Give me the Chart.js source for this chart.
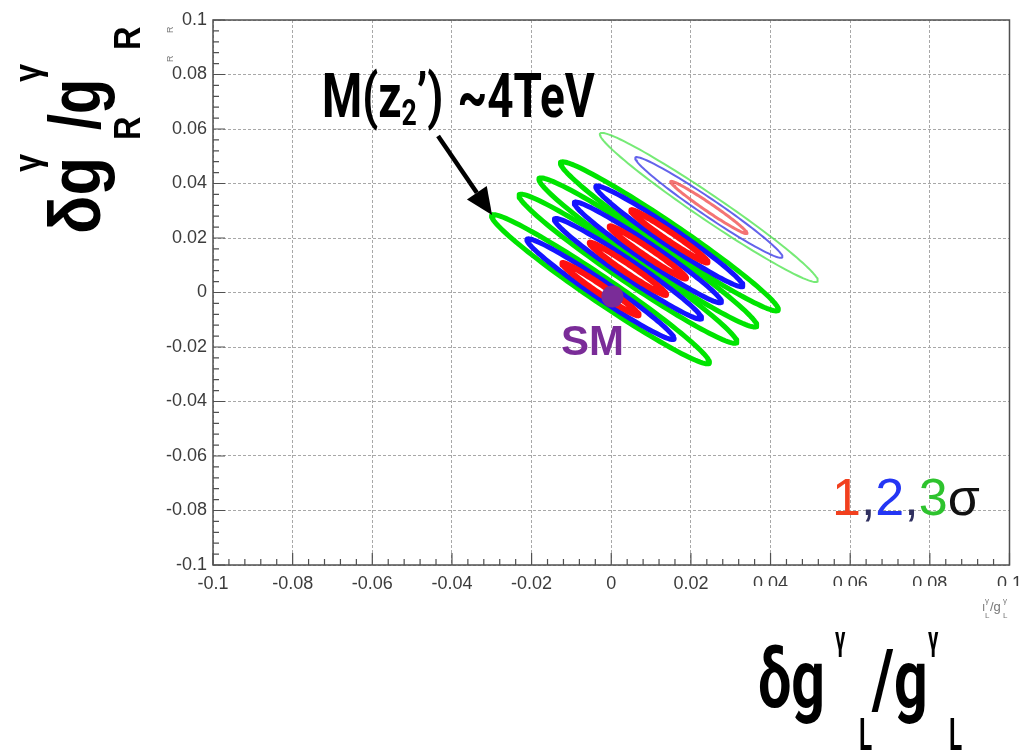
<!DOCTYPE html>
<html>
<head>
<meta charset="utf-8">
<script src="https://cdn.jsdelivr.net/npm/chart.js@4.4.1/dist/chart.umd.min.js"></script>
<style>
  html, body { margin: 0; padding: 0; background: #fff; }
  #wrap { width: 1030px; height: 751px; position: relative; }
</style>
</head>
<body>
<div id="wrap"><canvas id="c" width="1030" height="751"></canvas></div>
<script>
// Fit centres (δg_L/g_L, δg_R/g_R), from the SM-like fit to the furthest Z2' point
const fitCentreX = [-0.0027, 0.0042, 0.0092, 0.0146, 0.0245];
const fitCentreY = [0.0012, 0.0087, 0.0147, 0.0206, 0.0312];
// Contour levels and their half-lengths along / across the correlation direction
const sigmaLevels = [1, 2, 3];
const semiMajor = [0.0135, 0.026, 0.0385];
const semiMinor = [0.0013, 0.0027, 0.0039];
// Standard Model point
const smPointX = [0.0003];
const smPointY = [-0.0015];
// Axis ticks
const tickValues = [-0.1, -0.08, -0.06, -0.04, -0.02, 0, 0.02, 0.04, 0.06, 0.08, 0.1];
const tickLabels = ['-0.1', '-0.08', '-0.06', '-0.04', '-0.02', '0', '0.02', '0.04', '0.06', '0.08', '0.1'];

// contour outline: ellipse with its long axis along (1,-1)
function contour(cx, cy, a, b) {
  const pts = [];
  const n = 120;
  for (let i = 0; i <= n; i++) {
    const t = (i / n) * 2 * Math.PI;
    const u = a * Math.cos(t), v = b * Math.sin(t);
    pts.push({ x: cx + (u + v) / Math.SQRT2, y: cy + (-u + v) / Math.SQRT2 });
  }
  return pts;
}

const levelColours = ['#ff1010', '#1414ff', '#00e400'];
const fadedColours = ['rgba(240,70,70,0.75)', 'rgba(60,60,230,0.8)', 'rgba(60,225,60,0.7)'];
const levelWidths = [6, 5, 5];
const fadedWidths = [3, 2, 2];

const datasets = [];
fitCentreX.forEach((cx, s) => {
  const faded = s === fitCentreX.length - 1;
  sigmaLevels.forEach((lvl, k) => {
    datasets.push({
      label: lvl + 'σ',
      data: contour(cx, fitCentreY[s], semiMajor[k], semiMinor[k]),
      showLine: true,
      fill: false,
      tension: 0,
      pointRadius: 0,
      borderColor: faded ? fadedColours[k] : levelColours[k],
      borderWidth: faded ? fadedWidths[k] : levelWidths[k],
      borderJoinStyle: 'round',
      order: k + 1
    });
  });
});
datasets.push({
  label: 'SM',
  data: smPointX.map((x, i) => ({ x, y: smPointY[i] })),
  pointRadius: 11,
  pointBackgroundColor: '#7a2c98',
  pointBorderWidth: 0,
  showLine: false,
  order: 0
});

const purple = '#7a2c98';

function condensed(ctx, text, x, y, font, sx, colour) {
  ctx.save();
  ctx.translate(x, y);
  ctx.scale(sx, 1);
  ctx.font = font;
  ctx.fillStyle = colour || '#000';
  ctx.fillText(text, 0, 0);
  const w = ctx.measureText(text).width * sx;
  ctx.restore();
  return w;
}

function rotated(ctx, text, x, y, font, sx, colour) {
  ctx.save();
  ctx.translate(x, y);
  ctx.rotate(-Math.PI / 2);
  ctx.scale(sx, 1);
  ctx.font = font;
  ctx.fillStyle = colour || '#000';
  ctx.textBaseline = 'alphabetic';
  ctx.fillText(text, 0, 0);
  ctx.restore();
}

const decorations = {
  id: 'decorations',
  afterDraw(chart) {
    const { ctx, chartArea: a, scales } = chart;
    const xs = scales.x, ys = scales.y;
    ctx.save();

    // frame
    ctx.strokeStyle = '#505050';
    ctx.lineWidth = 1.5;
    ctx.strokeRect(a.left, a.top, a.right - a.left, a.bottom - a.top);

    // inward major and minor ticks on the x and y axes
    ctx.lineWidth = 1.2;
    ctx.strokeStyle = '#505050';
    ctx.beginPath();
    for (let i = 0; i < tickValues.length; i++) {
      const px = xs.getPixelForValue(tickValues[i]);
      const py = ys.getPixelForValue(tickValues[i]);
      ctx.moveTo(px, a.bottom); ctx.lineTo(px, a.bottom - 12);
      ctx.moveTo(a.left, py); ctx.lineTo(a.left + 12, py);
      if (i < tickValues.length - 1) {
        const step = (tickValues[i + 1] - tickValues[i]) / 5;
        for (let m = 1; m < 5; m++) {
          const v = tickValues[i] + m * step;
          const mx = xs.getPixelForValue(v), my = ys.getPixelForValue(v);
          ctx.moveTo(mx, a.bottom); ctx.lineTo(mx, a.bottom - 6);
          ctx.moveTo(a.left, my); ctx.lineTo(a.left + 6, my);
        }
      }
    }
    ctx.stroke();

    // white band over the lower part of the right-hand tick labels
    ctx.fillStyle = '#fff';
    ctx.fillRect(750, a.bottom + 21, 280, 40);

    // leftover small axis-title fragments
    ctx.fillStyle = '#777';
    ctx.font = '12px "Liberation Sans", Arial, sans-serif';
    ctx.fillText('ı', 982, 611);
    ctx.font = '8px "Liberation Sans", Arial, sans-serif';
    ctx.fillText('γ', 985, 603);
    ctx.font = '13px "Liberation Sans", Arial, sans-serif';
    ctx.fillText('/g', 990, 611);
    ctx.font = '8px "Liberation Sans", Arial, sans-serif';
    ctx.fillText('γ', 1003, 603);
    ctx.fillText('L', 985, 618);
    ctx.fillText('L', 1003, 618);
    rotated(ctx, 'R', 173, 33, '9px "Liberation Sans", Arial, sans-serif', 1, '#777');
    rotated(ctx, 'R', 173, 62, '9px "Liberation Sans", Arial, sans-serif', 1, '#777');

    // SM label under the SM point
    const smx = xs.getPixelForValue(smPointX[0]);
    const smy = ys.getPixelForValue(smPointY[0]);
    ctx.font = 'bold 42px "Liberation Sans", Arial, sans-serif';
    ctx.fillStyle = purple;
    ctx.textAlign = 'center';
    ctx.fillText('SM', smx - 20, smy + 58);
    ctx.textAlign = 'left';

    // 1,2,3σ key
    ctx.font = '52px "Liberation Sans", Arial, sans-serif';
    let kx = 832;
    const keyParts = [['1', '#f2401e'], [',', '#303060'], ['2', '#2436f4'], [',', '#303060'], ['3', '#2ec32e'], ['σ', '#111']];
    for (const [t, c] of keyParts) {
      ctx.fillStyle = c;
      ctx.fillText(t, kx, 515);
      kx += ctx.measureText(t).width;
    }

    // annotation: M(z2') ~4TeV with arrow to the outer contour of the first fit
    const big = 'bold 62px Roboto, "DejaVu Sans", sans-serif';
    const sub = 'bold 36px Roboto, "DejaVu Sans", sans-serif';
    const sx = 0.74;
    let tx = 322;
    tx += condensed(ctx, 'M(z', tx, 117, big, sx);
    tx += condensed(ctx, '2', tx, 125, sub, sx);
    tx += condensed(ctx, '’)', tx, 117, big, sx);
    tx += 14;
    condensed(ctx, '~4TeV', tx, 117, big, sx);

    const tipX = xs.getPixelForValue(fitCentreX[0] - semiMajor[2] / Math.SQRT2);
    const tipY = ys.getPixelForValue(fitCentreY[0] + semiMajor[2] / Math.SQRT2);
    const sxA = tipX - 54, syA = tipY - 79;
    const ang = Math.atan2(tipY - syA, tipX - sxA);
    const headL = 27, headW = 12;
    const bx = tipX - headL * Math.cos(ang), by = tipY - headL * Math.sin(ang);
    ctx.strokeStyle = '#000';
    ctx.lineWidth = 4.5;
    ctx.beginPath(); ctx.moveTo(sxA, syA); ctx.lineTo(bx, by); ctx.stroke();
    ctx.fillStyle = '#000';
    ctx.beginPath();
    ctx.moveTo(tipX, tipY);
    ctx.lineTo(bx + headW * Math.sin(ang), by - headW * Math.cos(ang));
    ctx.lineTo(bx - headW * Math.sin(ang), by + headW * Math.cos(ang));
    ctx.closePath(); ctx.fill();

    // x-axis title  δg^γ_L / g^γ_L
    const xt = 'bold 82px Roboto, "DejaVu Sans", sans-serif';
    const xsml = 'bold 44px Roboto, "DejaVu Sans", sans-serif';
    condensed(ctx, 'δg', 758, 707, xt, 0.72);
    condensed(ctx, 'γ', 835, 650, 'bold 34px Roboto, "DejaVu Sans", sans-serif', 0.6);
    condensed(ctx, 'L', 859, 750, xsml, 0.55);
    condensed(ctx, '/g', 872, 707, xt, 0.72);
    condensed(ctx, 'γ', 928, 650, 'bold 34px Roboto, "DejaVu Sans", sans-serif', 0.6);
    condensed(ctx, 'L', 949, 750, xsml, 0.55);

    // y-axis title  δg^γ_R / g^γ_R (reads bottom to top)
    const yt = 'bold 72px "Liberation Sans", Arial, sans-serif';
    const ysml = 'bold 36px "Liberation Sans", Arial, sans-serif';
    rotated(ctx, 'δg', 100, 234, yt, 0.88);
    rotated(ctx, 'γ', 40, 172, ysml, 0.9);
    rotated(ctx, 'R', 140, 140, ysml, 0.9);
    rotated(ctx, '/g', 100, 130, yt, 0.8);
    rotated(ctx, 'γ', 40, 82, ysml, 0.9);
    rotated(ctx, 'R', 140, 50, ysml, 0.9);

    ctx.restore();
  }
};

const tickFont = { family: '"Liberation Sans", Arial, sans-serif', size: 18 };

new Chart(document.getElementById('c'), {
  type: 'scatter',
  data: { datasets },
  options: {
    responsive: false,
    devicePixelRatio: 1,
    animation: false,
    layout: { padding: { top: 20, right: 13, left: 0, bottom: 0 } },
    plugins: { legend: { display: false }, tooltip: { enabled: false } },
    scales: {
      x: {
        type: 'linear', min: -0.1, max: 0.1,
        afterBuildTicks: (s) => { s.ticks = tickValues.map(v => ({ value: v })); },
        afterFit: (s) => { s.height = 186; },
        ticks: { callback: (v, i) => tickLabels[i], font: tickFont, color: '#3c3c3c', padding: 8, maxRotation: 0, autoSkip: false },
        grid: { color: '#a8a8a8', lineWidth: 1, drawTicks: false },
        border: { display: false, dash: [3, 2] }
      },
      y: {
        type: 'linear', min: -0.1, max: 0.1,
        afterBuildTicks: (s) => { s.ticks = tickValues.map(v => ({ value: v })); },
        afterFit: (s) => { s.width = 213; },
        ticks: { callback: (v, i) => tickLabels[i], font: tickFont, color: '#3c3c3c', padding: 6, autoSkip: false },
        grid: { color: '#a8a8a8', lineWidth: 1, drawTicks: false },
        border: { display: false, dash: [3, 2] }
      }
    }
  },
  plugins: [decorations]
});
</script>
</body>
</html>
